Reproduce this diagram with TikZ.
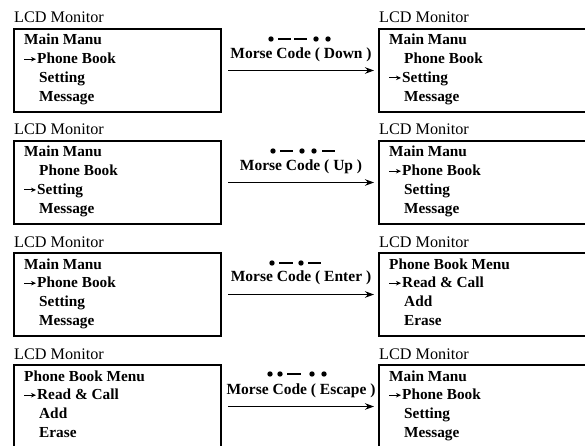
\documentclass[tikz,border=0pt]{standalone}
\usepackage{fontspec}
\setmainfont{Liberation Serif}
\usetikzlibrary{arrows.meta}

\tikzset{
  lcdbox/.style={draw, line width=1.7pt, minimum height=83pt, anchor=north west, inner sep=0pt, outer sep=0pt},
  lcdtitle/.style={anchor=base west, inner sep=0pt, font=\fontsize{16.2}{17}\selectfont},
  menuitem/.style={anchor=base west, inner sep=0pt, font=\bfseries\fontsize{15.3}{16}\selectfont},
  cursor/.style={-{Stealth[length=5pt,width=4.5pt]}, line width=0.9pt},
  flow/.style={-{Stealth[length=9pt,width=6.5pt]}, line width=1.5pt, shorten <=7pt, shorten >=5pt},
  codelabel/.style={anchor=base, inner sep=0pt, font=\bfseries\fontsize{15.5}{17}\selectfont},
  morsedash/.style={line width=2.7pt},
}

% frame with its "LCD Monitor" caption: name, left x, top y, width
\newcommand\lcdpanel[4]{%
  \node[lcdtitle] (#1-title) at (#2, #3-6) {LCD Monitor};
  \node[lcdbox, minimum width=#4] (#1) at (#2, #3) {};
}
% menu lines: name, panel left x, baseline y, text
\newcommand\menuhead[4]{\node[menuitem] (#1) at (#2+10, #3) {#4};}
\newcommand\menuopt[4]{\node[menuitem] (#1) at (#2+25, #3) {#4};}
\newcommand\menusel[4]{%
  \node[menuitem] (#1) at (#2+23, #3) {#4};
  \draw[cursor] ([xshift=-13pt, yshift=4.5pt]#1.base west) -- ([xshift=-1pt, yshift=4.5pt]#1.base west);}
% morse symbols
\newcommand\mdot[2]{\fill (#1, #2) circle (2.7pt);}
\newcommand\mdash[3]{\draw[morsedash] (#1, #3) -- (#2, #3);}

\begin{document}
\begin{tikzpicture}[x=1pt, y=-1pt]
\path[use as bounding box, clip] (0,0) rectangle (585,446);
\fill[white] (0,0) rectangle (585,446);

% ---------- Down ----------
\lcdpanel{a1}{14}{29}{207pt}
\menuhead{a1-0}{14}{45}{Main Manu}
\menusel{a1-1}{14}{63.7}{Phone Book}
\menuopt{a1-2}{14}{82.4}{Setting}
\menuopt{a1-3}{14}{101.1}{Message}
\lcdpanel{b1}{379}{29}{230pt}
\menuhead{b1-0}{379}{45}{Main Manu}
\menuopt{b1-1}{379}{63.7}{Phone Book}
\menusel{b1-2}{379}{82.4}{Setting}
\menuopt{b1-3}{379}{101.1}{Message}
\draw[flow] (a1) -- (b1);
\node[codelabel] (c1) at (301, 58.5) {Morse Code ( Down )};
\mdot{271}{39} \mdash{278}{291}{39} \mdash{294}{307}{39} \mdot{316}{39} \mdot{328}{39}

% ---------- Up ----------
\lcdpanel{a2}{14}{141}{207pt}
\menuhead{a2-0}{14}{157}{Main Manu}
\menuopt{a2-1}{14}{175.7}{Phone Book}
\menusel{a2-2}{14}{194.4}{Setting}
\menuopt{a2-3}{14}{213.1}{Message}
\lcdpanel{b2}{379}{141}{230pt}
\menuhead{b2-0}{379}{157}{Main Manu}
\menusel{b2-1}{379}{175.7}{Phone Book}
\menuopt{b2-2}{379}{194.4}{Setting}
\menuopt{b2-3}{379}{213.1}{Message}
\draw[flow] (a2) -- (b2);
\node[codelabel] (c2) at (301, 170.5) {Morse Code ( Up )};
\mdot{273}{151} \mdash{280}{293}{151} \mdot{302}{151} \mdot{314}{151} \mdash{322}{335}{151}

% ---------- Enter ----------
\lcdpanel{a3}{14}{253}{207pt}
\menuhead{a3-0}{14}{269}{Main Manu}
\menusel{a3-1}{14}{287.7}{Phone Book}
\menuopt{a3-2}{14}{306.4}{Setting}
\menuopt{a3-3}{14}{325.1}{Message}
\lcdpanel{b3}{379}{253}{230pt}
\menuhead{b3-0}{379}{269}{Phone Book Menu}
\menusel{b3-1}{379}{287.7}{Read \& Call}
\menuopt{b3-2}{379}{306.4}{Add}
\menuopt{b3-3}{379}{325.1}{Erase}
\draw[flow] (a3) -- (b3);
\node[codelabel] (c3) at (301, 281.5) {Morse Code ( Enter )};
\mdot{272}{263} \mdash{279}{293}{263} \mdot{301}{263} \mdash{308}{321}{263}

% ---------- Escape ----------
\lcdpanel{a4}{14}{365}{207pt}
\menuhead{a4-0}{14}{381}{Phone Book Menu}
\menusel{a4-1}{14}{399.7}{Read \& Call}
\menuopt{a4-2}{14}{418.4}{Add}
\menuopt{a4-3}{14}{437.1}{Erase}
\lcdpanel{b4}{379}{365}{230pt}
\menuhead{b4-0}{379}{381}{Main Manu}
\menusel{b4-1}{379}{399.7}{Phone Book}
\menuopt{b4-2}{379}{418.4}{Setting}
\menuopt{b4-3}{379}{437.1}{Message}
\draw[flow] (a4) -- (b4);
\node[codelabel] (c4) at (301, 394.5) {Morse Code ( Escape )};
\mdot{270}{374} \mdot{280}{374} \mdash{287}{301}{374} \mdot{312}{374} \mdot{324}{374}
\end{tikzpicture}
\end{document}
